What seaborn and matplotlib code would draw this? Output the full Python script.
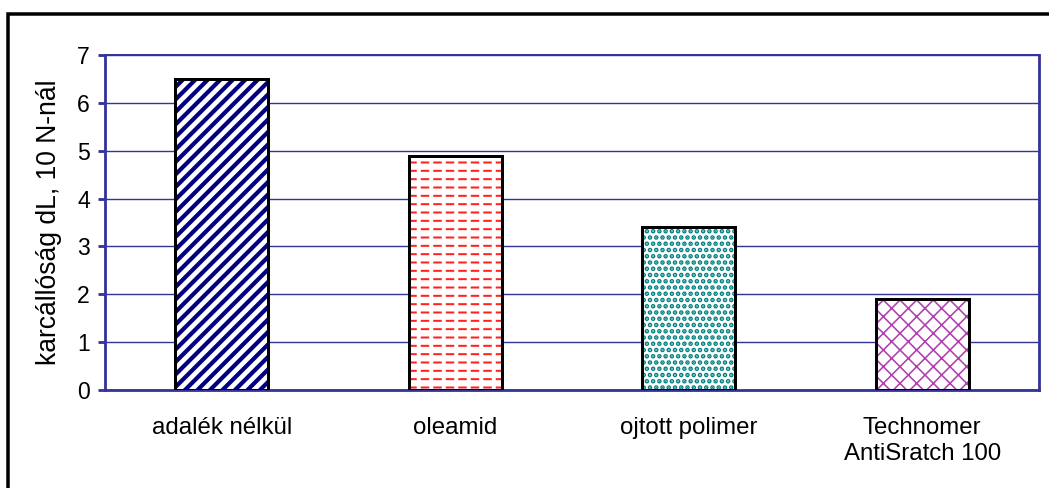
import matplotlib
matplotlib.use("Agg")
import matplotlib.pyplot as plt
import seaborn as sns
import pandas as pd
from matplotlib.patches import Rectangle

# values
categories = ["adalék nélkül", "oleamid", "ojtott polimer", "Technomer\nAntiSratch 100"]
values = [6.5, 4.9, 3.4, 1.9]
hatch_colors = ["#000080", "#FF2020", "#008080", "#B040B0"]
hatches = ["////", "---", "....", "xxx"]
hatch_widths_px = [4.2, 2.0, 3.2, 1.6]
y_ticks = [0, 1, 2, 3, 4, 5, 6, 7]
y_label = "karcállóság dL, 10 N-nál"

AXIS_BLUE = "#333399"
DPI = 150  # hatch spacing follows the dpi


def px(n):
    # pixels -> points at the chosen dpi
    return n * 72.0 / DPI


sns.set_theme(style="white")
plt.rcParams["font.family"] = ["Liberation Sans", "DejaVu Sans"]
plt.rcParams["hatch.linewidth"] = px(2)
plt.rcParams["text.color"] = "black"
plt.rcParams["xtick.labelcolor"] = "black"
plt.rcParams["ytick.labelcolor"] = "black"
plt.rcParams["axes.labelcolor"] = "black"

df = pd.DataFrame({"kat": categories, "dL": values})

fig = plt.figure(figsize=(1049 / DPI, 488 / DPI), dpi=DPI)
ax = fig.add_axes([0.1001, 0.2008, 0.8904, 0.6865])

# hatched fill (hatch colour taken from edge colour)
sns.barplot(data=df, x="kat", y="dL", ax=ax, width=0.4, color="white", saturation=1)
for patch, hc, h, hw in zip(ax.patches, hatch_colors, hatches, hatch_widths_px):
    patch.set_facecolor("white")
    patch.set_edgecolor(hc)
    patch.set_hatch(h)
    patch.set_linewidth(0)
    patch.set_zorder(2)
    if hasattr(patch, "set_hatch_linewidth"):
        patch.set_hatch_linewidth(px(hw))
n = len(categories)

# white vertical cuts turn the red lines of "oleamid" into dashes
sns.barplot(data=df, x="kat", y="dL", ax=ax, width=0.4, color="white", saturation=1)
for i, patch in enumerate(ax.patches[n:2 * n]):
    patch.set_facecolor("none")
    patch.set_linewidth(0)
    patch.set_zorder(2.5)
    if i == 1:
        patch.set_edgecolor("white")
        patch.set_hatch("||")
        if hasattr(patch, "set_hatch_linewidth"):
            patch.set_hatch_linewidth(px(4))
    else:
        patch.set_visible(False)

# black outline on top
sns.barplot(data=df, x="kat", y="dL", ax=ax, width=0.4, fill=False, color="black",
            linewidth=px(3), saturation=1)
for patch in ax.patches[2 * n:]:
    patch.set_edgecolor("black")
    patch.set_zorder(3)

ax.set_ylim(0, 7)
ax.set_xlim(-0.5, 3.5)
ax.set_yticks(y_ticks)
ax.set_yticklabels([str(t) for t in y_ticks], fontsize=px(23))
ax.yaxis.grid(True, color=AXIS_BLUE, linewidth=px(1.4))
ax.set_axisbelow(True)

ax.set_xlabel("")
ax.set_ylabel(y_label, fontsize=px(26.5), labelpad=px(15))
ax.tick_params(axis="x", which="major", length=0, labelsize=px(24), pad=px(27))
ax.set_xticks([-0.5, 0.5, 1.5, 2.5, 3.5], minor=True)
ax.tick_params(axis="x", which="minor", length=px(8), width=px(2.8), color=AXIS_BLUE,
               direction="out")
ax.tick_params(axis="y", length=px(7), width=px(2.8), color=AXIS_BLUE, direction="out",
               pad=px(8), left=True)
for lbl in ax.get_xticklabels():
    lbl.set_verticalalignment("top")
    lbl.set_linespacing(1.25)

for side in ["left", "bottom", "right", "top"]:
    ax.spines[side].set_visible(True)
    ax.spines[side].set_color(AXIS_BLUE)
    ax.spines[side].set_linewidth(px(2.8))
ax.spines["top"].set_linewidth(px(2))

# outer chart frame (cut off on the right and bottom in the reference)
top = 1 - 14 / 488
fig.patches.append(Rectangle((0.0076, -0.05), 1.05, top + 0.05, transform=fig.transFigure,
                             fill=False, edgecolor="black", linewidth=px(3.5), zorder=0))

fig.savefig("out.png", dpi=DPI)
